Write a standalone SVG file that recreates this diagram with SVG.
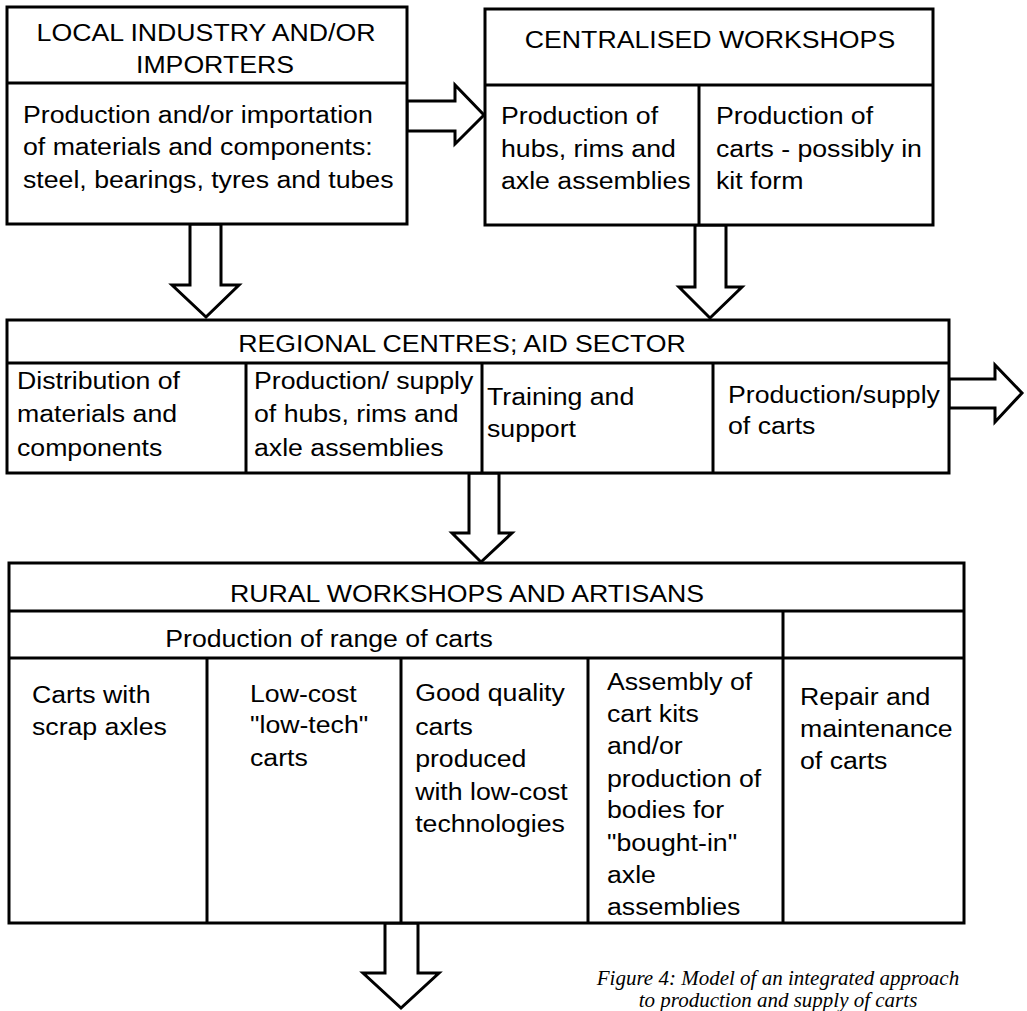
<svg xmlns="http://www.w3.org/2000/svg" width="1027" height="1011" viewBox="0 0 1027 1011">
<style>
.box{fill:#fff;stroke:#000;stroke-width:3}
.ln{fill:none;stroke:#000;stroke-width:3}
.arr{fill:#fff;stroke:#000;stroke-width:3;stroke-linejoin:miter}
.t{font-family:"Liberation Sans",Arial,sans-serif;font-size:23px;fill:#000;transform:scaleX(1.16);transform-box:fill-box;transform-origin:0 0}
.c{text-anchor:middle;transform-origin:50% 0}
.cap{font-family:"Liberation Serif","Times New Roman",serif;font-style:italic;font-size:21px;fill:#000;text-anchor:middle}
</style>
<rect width="1027" height="1011" fill="#fff"/>
<g id="connectors">
<polygon class="arr" points="407,101 455,101 455,85 484,115 455,144 455,131 407,131"/>
<polygon class="arr" points="190,224 190,285 172,285 206,317 239,285 221,285 221,224"/>
<polygon class="arr" points="695,225 695,287 679,287 710,318 742,287 726,287 726,225"/>
<polygon class="arr" points="949,379 995,379 995,365 1022,393 995,422 995,408 949,408"/>
<polygon class="arr" points="469,473 469,533 452,533 481,562 512,533 499,533 499,473"/>
<polygon class="arr" points="385,923 385,973 363,973 401,1008 439,973 418,973 418,923"/>
</g>
<g id="local-industry">
<rect class="box" x="7" y="7" width="400" height="217"/>
<line class="ln" x1="7" y1="83" x2="407" y2="83"/>
<text class="t c" x="206" y="41">LOCAL INDUSTRY AND/OR</text>
<text class="t c" x="215" y="73">IMPORTERS</text>
<text class="t" x="23" y="123">Production and/or importation<tspan x="23" y="155">of materials and components:</tspan><tspan x="23" y="188">steel, bearings, tyres and tubes</tspan></text>
</g>
<g id="centralised-workshops">
<rect class="box" x="485" y="9" width="448" height="216"/>
<line class="ln" x1="485" y1="85" x2="933" y2="85"/>
<line class="ln" x1="699" y1="85" x2="699" y2="225"/>
<text class="t c" x="710" y="48">CENTRALISED WORKSHOPS</text>
<text class="t" x="501" y="124">Production of<tspan x="501" y="157">hubs, rims and</tspan><tspan x="501" y="189">axle assemblies</tspan></text>
<text class="t" x="716" y="124">Production of<tspan x="716" y="157">carts - possibly in</tspan><tspan x="716" y="189">kit form</tspan></text>
</g>
<g id="regional-centres">
<rect class="box" x="7" y="320" width="942" height="153"/>
<line class="ln" x1="7" y1="363" x2="949" y2="363"/>
<line class="ln" x1="246" y1="363" x2="246" y2="473"/>
<line class="ln" x1="482" y1="363" x2="482" y2="473"/>
<line class="ln" x1="713" y1="363" x2="713" y2="473"/>
<text class="t c" x="462" y="352">REGIONAL CENTRES; AID SECTOR</text>
<text class="t" x="17" y="389">Distribution of<tspan x="17" y="422">materials and</tspan><tspan x="17" y="456">components</tspan></text>
<text class="t" x="254" y="389">Production/ supply<tspan x="254" y="422">of hubs, rims and</tspan><tspan x="254" y="456">axle assemblies</tspan></text>
<text class="t" x="487" y="405">Training and<tspan x="487" y="437">support</tspan></text>
<text class="t" x="728" y="403">Production/supply<tspan x="728" y="434">of carts</tspan></text>
</g>
<g id="rural-workshops">
<rect class="box" x="9" y="563" width="955" height="360"/>
<line class="ln" x1="9" y1="611" x2="964" y2="611"/>
<line class="ln" x1="9" y1="658" x2="964" y2="658"/>
<line class="ln" x1="783" y1="611" x2="783" y2="923"/>
<line class="ln" x1="207" y1="658" x2="207" y2="923"/>
<line class="ln" x1="401" y1="658" x2="401" y2="923"/>
<line class="ln" x1="588" y1="658" x2="588" y2="923"/>
<text class="t c" x="467" y="602">RURAL WORKSHOPS AND ARTISANS</text>
<text class="t c" x="329" y="647">Production of range of carts</text>
<text class="t" x="32" y="703">Carts with<tspan x="32" y="735">scrap axles</tspan></text>
<text class="t" x="250" y="702">Low-cost<tspan x="250" y="733">"low-tech"</tspan><tspan x="250" y="766">carts</tspan></text>
<text class="t" x="415" y="701">Good quality<tspan x="415" y="735">carts</tspan><tspan x="415" y="767">produced</tspan><tspan x="415" y="800">with low-cost</tspan><tspan x="415" y="832">technologies</tspan></text>
<text class="t" x="607" y="690">Assembly of<tspan x="607" y="722">cart kits</tspan><tspan x="607" y="754">and/or</tspan><tspan x="607" y="787">production of</tspan><tspan x="607" y="818">bodies for</tspan><tspan x="607" y="851">"bought-in"</tspan><tspan x="607" y="883">axle</tspan><tspan x="607" y="915">assemblies</tspan></text>
<text class="t" x="800" y="705">Repair and<tspan x="800" y="737">maintenance</tspan><tspan x="800" y="769">of carts</tspan></text>
</g>
<g id="caption">
<text class="cap" x="778" y="985">Figure 4: Model of an integrated approach</text>
<text class="cap" x="778" y="1007">to production and supply of carts</text>
</g>
</svg>
